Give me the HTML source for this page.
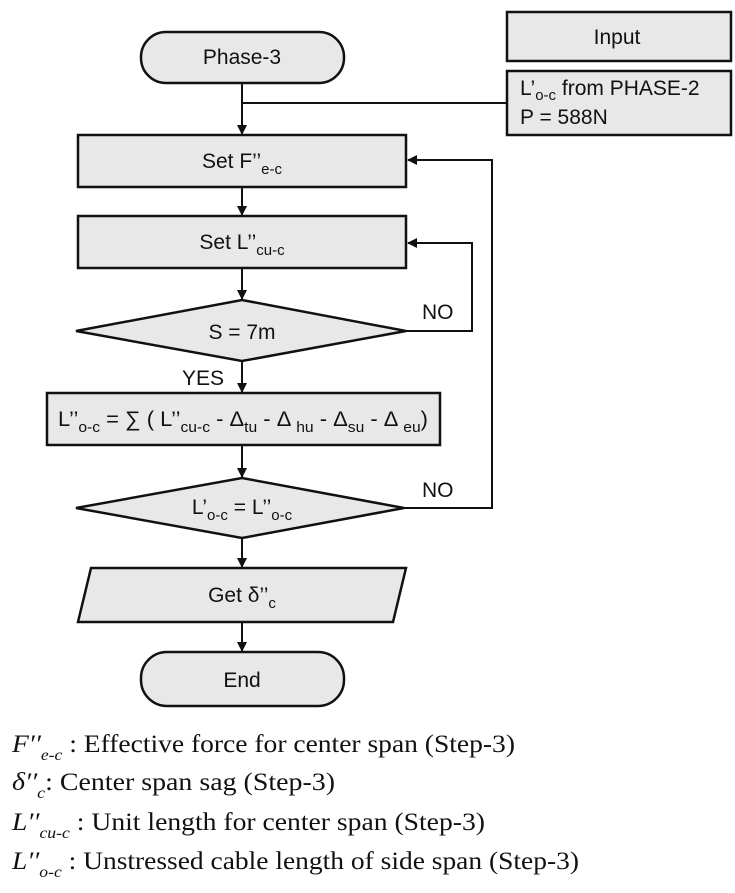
<!DOCTYPE html>
<html><head><meta charset="utf-8"><style>
html,body{margin:0;padding:0;background:#fff;}
svg{display:block;}
.t{font-family:"Liberation Sans",sans-serif;font-size:21px;fill:#111;}
.s{font-size:15px;}
.l{font-family:"Liberation Serif",serif;font-size:25px;fill:#111;}
.li{font-family:"Liberation Serif",serif;font-style:italic;fill:#111;}
</style></head><body>
<svg width="735" height="893" viewBox="0 0 735 893" xmlns="http://www.w3.org/2000/svg">
<defs><marker id="a" markerWidth="10" markerHeight="10" refX="9" refY="5" orient="auto" markerUnits="userSpaceOnUse"><path d="M0,0 L10,5 L0,10 z" fill="#111"/></marker></defs>
<g stroke="#111" stroke-width="2.5" fill="#e8e8e8">
<rect x="141" y="32" width="203" height="51" rx="25"/>
<rect x="507" y="12" width="224" height="49"/>
<rect x="507" y="71" width="224" height="64"/>
<rect x="78" y="135" width="328" height="52"/>
<rect x="78" y="216" width="328" height="52"/>
<polygon points="76,331 242,300 406,331 242,361"/>
<rect x="47" y="393" width="393" height="52"/>
<polygon points="76,508 242,478 404,508 242,538"/>
<polygon points="91,568 406,568 393,622 78,622"/>
<rect x="141" y="652" width="203" height="54" rx="26"/>
</g>
<g stroke="#111" stroke-width="2" fill="none">
<line x1="242" y1="83" x2="242" y2="134" marker-end="url(#a)"/>
<line x1="242" y1="103" x2="507" y2="103"/>
<line x1="242" y1="187" x2="242" y2="215" marker-end="url(#a)"/>
<line x1="242" y1="268" x2="242" y2="299" marker-end="url(#a)"/>
<line x1="242" y1="361" x2="242" y2="392" marker-end="url(#a)"/>
<line x1="242" y1="445" x2="242" y2="477" marker-end="url(#a)"/>
<line x1="242" y1="538" x2="242" y2="567" marker-end="url(#a)"/>
<line x1="242" y1="622" x2="242" y2="651" marker-end="url(#a)"/>
<polyline points="406,331 472,331 472,243 408,243" marker-end="url(#a)"/>
<polyline points="404,508 492,508 492,160 408,160" marker-end="url(#a)"/>
</g>
<text class="t" x="242" y="64" text-anchor="middle">Phase-3</text>
<text class="t" x="617" y="44" text-anchor="middle">Input</text>
<text class="t" x="520" y="95">L’<tspan class="s" dy="5">o-c</tspan><tspan dy="-5"> from PHASE-2</tspan></text>
<text class="t" x="520" y="124">P = 588N</text>
<text class="t" x="242" y="168" text-anchor="middle">Set F’’<tspan class="s" dy="6">e-c</tspan></text>
<text class="t" x="242" y="249" text-anchor="middle">Set L’’<tspan class="s" dy="6">cu-c</tspan></text>
<text class="t" x="242" y="339" text-anchor="middle">S = 7m</text>
<text class="t" x="422" y="319">NO</text>
<text class="t" x="182" y="385">YES</text>
<text class="t" x="243" y="426" text-anchor="middle" textLength="370" lengthAdjust="spacingAndGlyphs">L’’<tspan class="s" dy="6">o-c</tspan><tspan dy="-6"> = ∑ ( L’’</tspan><tspan class="s" dy="6">cu-c</tspan><tspan dy="-6"> - Δ</tspan><tspan class="s" dy="6">tu</tspan><tspan dy="-6"> - Δ </tspan><tspan class="s" dy="6">hu</tspan><tspan dy="-6"> - Δ</tspan><tspan class="s" dy="6">su</tspan><tspan dy="-6"> - Δ </tspan><tspan class="s" dy="6">eu</tspan><tspan dy="-6">)</tspan></text>
<text class="t" x="242" y="514" text-anchor="middle">L’<tspan class="s" dy="6">o-c</tspan><tspan dy="-6"> = L’’</tspan><tspan class="s" dy="6">o-c</tspan></text>
<text class="t" x="422" y="497">NO</text>
<text class="t" x="242" y="602" text-anchor="middle">Get δ’’<tspan class="s" dy="6">c</tspan></text>
<text class="t" x="242" y="687" text-anchor="middle">End</text>
<text class="l" x="12" y="752" textLength="503" lengthAdjust="spacingAndGlyphs"><tspan class="li">F′′</tspan><tspan class="li" font-size="16" dy="8">e-c</tspan><tspan dy="-8"> : Effective force for center span (Step-3)</tspan></text>
<text class="l" x="12" y="790" textLength="323" lengthAdjust="spacingAndGlyphs"><tspan class="li">δ′′</tspan><tspan class="li" font-size="16" dy="8">c</tspan><tspan dy="-8">: Center span sag (Step-3)</tspan></text>
<text class="l" x="12" y="830" textLength="473" lengthAdjust="spacingAndGlyphs"><tspan class="li">L′′</tspan><tspan class="li" font-size="16" dy="8">cu-c</tspan><tspan dy="-8"> : Unit length for center span (Step-3)</tspan></text>
<text class="l" x="12" y="869" textLength="567" lengthAdjust="spacingAndGlyphs"><tspan class="li">L′′</tspan><tspan class="li" font-size="16" dy="8">o-c</tspan><tspan dy="-8"> : Unstressed cable length of side span (Step-3)</tspan></text>
</svg>
</body></html>
